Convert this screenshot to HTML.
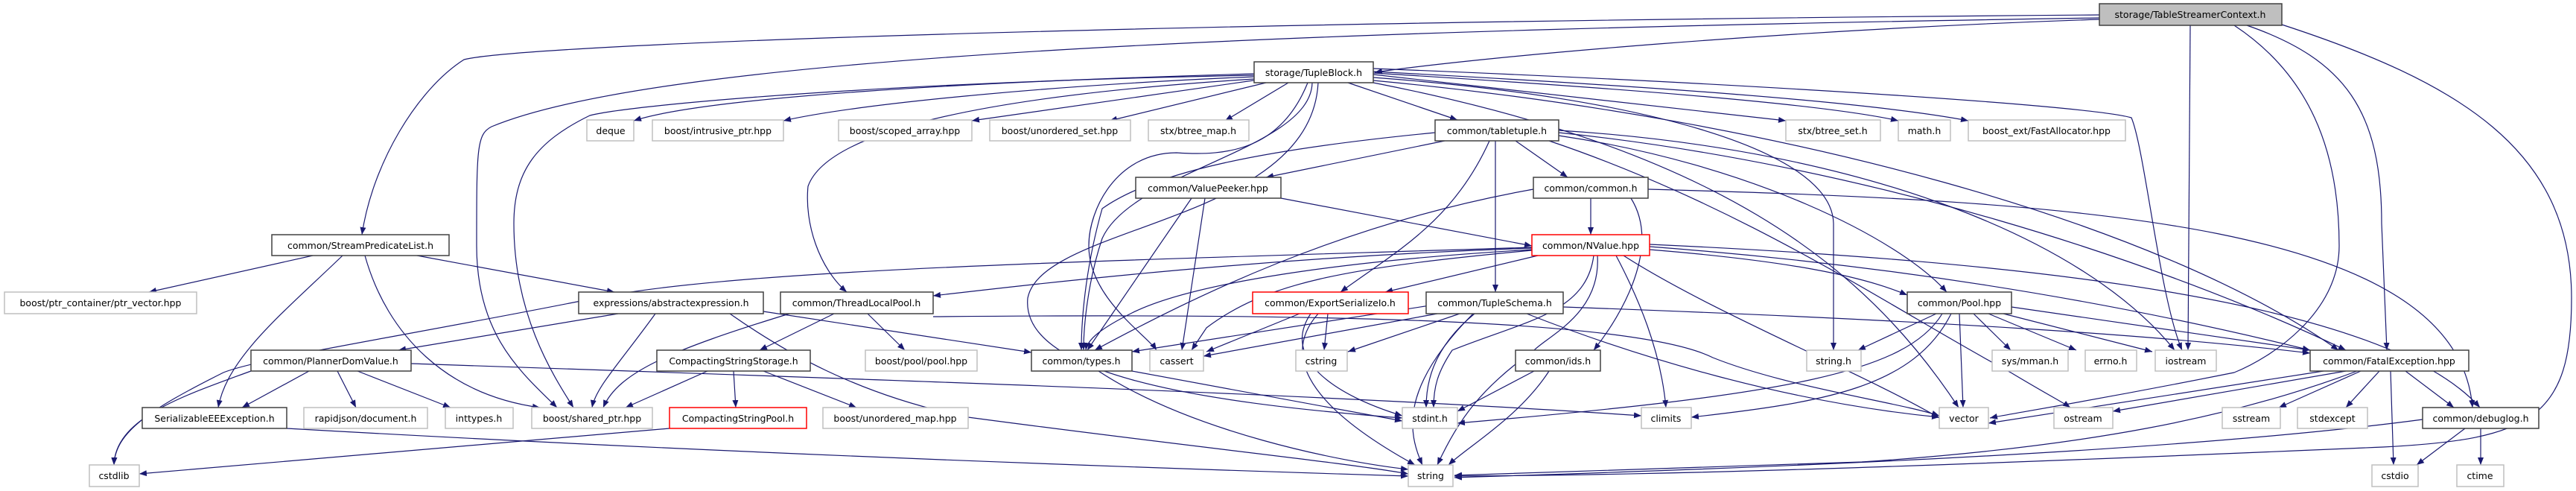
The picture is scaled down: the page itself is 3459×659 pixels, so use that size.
<!DOCTYPE html>
<html><head><meta charset="utf-8"><style>
html,body{margin:0;padding:0;background:#fff;}
svg{display:block;}
text{font-family:"DejaVu Sans","Liberation Sans",sans-serif;font-size:12.5px;fill:#000;}
.e{fill:none;stroke:#191970;stroke-width:1.2;marker-end:url(#a);}
.n{fill:#fff;stroke:#404040;stroke-width:1.5;}
.g{fill:#fff;stroke:#bfbfbf;stroke-width:1.5;}
.r{fill:#fff;stroke:#ff0000;stroke-width:1.5;}
</style></head><body>
<svg width="3459" height="659" viewBox="0 0 3459 659" xmlns="http://www.w3.org/2000/svg">
<defs><marker id="a" viewBox="0 0 10 8" refX="10" refY="4" markerWidth="10" markerHeight="8" markerUnits="userSpaceOnUse" orient="auto"><path d="M0,0 L10,4 L0,8 z" fill="#191970"/></marker></defs>
<g>
<path class="e" d="M2819,26 C2400,40 2000,75 1846,97"/>
<path class="e" d="M2819,20 C1500,30 700,60 623,80 C560,120 500,220 486,315"/>
<path class="e" d="M2819,24 C1800,40 900,70 660,170 C640,180 640,200 640,330 C640,450 700,500 748,547"/>
<path class="e" d="M2941,34 L2938,470"/>
<path class="e" d="M3000,34 C3100,100 3141,200 3141,330 C3141,420 3050,480 3000,500 C2800,540 2700,555 2672,561"/>
<path class="e" d="M3017,34 C3150,80 3198,150 3198,300 L3205,470"/>
<path class="e" d="M3064,33 C3300,110 3453,200 3453,400 C3453,560 3400,590 3200,600 C2500,630 2200,638 1953,639"/>
<path class="e" d="M1684,99 C1300,110 950,130 851,162"/>
<path class="e" d="M1684,103 C1400,115 1150,140 1052,162"/>
<path class="e" d="M1690,107 L1305,162"/>
<path class="e" d="M1700,111 L1490,162"/>
<path class="e" d="M1730,111 L1645,162"/>
<path class="e" d="M1810,111 L1957,161"/>
<path class="e" d="M1684,106 C1300,130 1110,180 1085,250 C1080,300 1100,360 1137,392"/>
<path class="e" d="M1684,101 C1200,110 850,140 792,155 C720,190 690,230 690,300 C690,420 740,500 770,547"/>
<path class="e" d="M1756,111 C1720,200 1650,210 1580,205 C1500,205 1462,280 1462,330 C1462,400 1540,450 1553,470"/>
<path class="e" d="M1762,111 C1760,200 1520,230 1480,320 C1460,380 1455,440 1455,470"/>
<path class="e" d="M1770,111 C1760,300 1400,300 1380,400 C1370,500 1600,540 1883,561"/>
<path class="e" d="M1844,104 C2200,130 2460,200 2462,300 L2462,470"/>
<path class="e" d="M1844,100 L2398,162"/>
<path class="e" d="M1844,98 C2200,120 2450,140 2549,162"/>
<path class="e" d="M1844,96 C2200,115 2500,135 2643,162"/>
<path class="e" d="M1844,92 C2300,110 2800,140 2862,158 C2880,200 2900,400 2930,470"/>
<path class="e" d="M1844,108 C2400,160 2900,300 3140,470"/>
<path class="e" d="M1844,111 C2300,200 2500,350 2630,547"/>
<path class="e" d="M1940,189 L1700,238"/>
<path class="e" d="M2035,189 L2105,238"/>
<path class="e" d="M2000,189 C1950,300 1870,340 1800,392"/>
<path class="e" d="M2008,189 L2008,392"/>
<path class="e" d="M2093,182 C2350,220 2550,320 2614,392"/>
<path class="e" d="M2093,178 C2500,220 2900,350 3150,470"/>
<path class="e" d="M2093,175 C2500,200 2800,320 2920,470"/>
<path class="e" d="M2080,189 C2350,280 2550,420 2700,500 C2750,530 2770,540 2780,547"/>
<path class="e" d="M1927,178 C1700,200 1550,230 1480,280 C1460,350 1452,420 1452,470"/>
<path class="e" d="M1720,266 L2057,330"/>
<path class="e" d="M1600,266 L1460,470"/>
<path class="e" d="M1618,266 L1587,470"/>
<path class="e" d="M2136,266 L2136,315"/>
<path class="e" d="M2213,254 C2800,270 3300,300 3320,547"/>
<path class="e" d="M2059,254 C1800,300 1600,400 1470,470"/>
<path class="e" d="M2190,266 C2230,330 2180,420 2140,470"/>
<path class="e" d="M2057,332 C1500,350 1000,360 800,400 C550,450 350,480 300,500 C200,550 155,580 153,624"/>
<path class="e" d="M2057,333 C1700,345 1400,380 1253,397"/>
<path class="e" d="M2065,343 L1860,392"/>
<path class="e" d="M2057,335 C1800,350 1600,380 1520,420 C1480,440 1460,455 1458,470"/>
<path class="e" d="M2057,336 C1800,360 1700,380 1620,440 L1600,470"/>
<path class="e" d="M2215,335 C2400,350 2500,370 2561,396"/>
<path class="e" d="M2215,331 C2600,360 2900,420 3102,470"/>
<path class="e" d="M2215,328 C2700,350 3200,400 3330,547"/>
<path class="e" d="M2140,343 C2130,420 2050,430 1950,470 C1930,500 1925,520 1925,547"/>
<path class="e" d="M2145,343 C2150,420 2080,450 2060,470 C1990,520 1960,560 1930,624"/>
<path class="e" d="M2170,343 C2200,400 2230,470 2237,547"/>
<path class="e" d="M2180,343 C2300,420 2500,500 2604,561"/>
<path class="e" d="M420,343 L200,392"/>
<path class="e" d="M460,343 C380,420 305,480 293,547"/>
<path class="e" d="M490,343 C520,450 600,530 725,547"/>
<path class="e" d="M560,343 L825,392"/>
<path class="e" d="M830,421 L535,470"/>
<path class="e" d="M880,421 C830,490 800,520 795,547"/>
<path class="e" d="M1025,418 L1385,473"/>
<path class="e" d="M980,421 C1050,470 1150,530 1300,560 C1600,600 1800,620 1891,636"/>
<path class="e" d="M1060,421 C900,470 830,500 810,547"/>
<path class="e" d="M1120,421 L1020,470"/>
<path class="e" d="M1165,421 L1215,470"/>
<path class="e" d="M1253,425 C1800,420 2200,430 2300,480 C2400,520 2550,540 2604,558"/>
<path class="e" d="M337,498 C250,530 155,560 153,624"/>
<path class="e" d="M415,498 L325,547"/>
<path class="e" d="M453,498 L478,547"/>
<path class="e" d="M480,498 L605,547"/>
<path class="e" d="M552,488 C1200,510 1800,530 2204,558"/>
<path class="e" d="M950,498 L840,547"/>
<path class="e" d="M985,498 L988,547"/>
<path class="e" d="M1025,498 L1150,547"/>
<path class="e" d="M899,575 L187,636"/>
<path class="e" d="M385,575 C1000,610 1600,630 1891,639"/>
<path class="e" d="M1745,421 L1620,472"/>
<path class="e" d="M1783,421 L1778,470"/>
<path class="e" d="M1760,421 C1720,480 1790,530 1883,558"/>
<path class="e" d="M1770,421 C1700,500 1820,580 1900,624"/>
<path class="e" d="M1920,410 L1520,472"/>
<path class="e" d="M1930,421 L1616,478"/>
<path class="e" d="M1960,421 L1810,472"/>
<path class="e" d="M1980,421 C1920,470 1915,520 1915,547"/>
<path class="e" d="M1978,421 C1880,520 1890,580 1910,624"/>
<path class="e" d="M2099,412 C2600,430 2900,450 3102,474"/>
<path class="e" d="M2050,421 C2200,480 2400,540 2604,560"/>
<path class="e" d="M1520,498 L1883,565"/>
<path class="e" d="M1475,498 C1600,580 1800,620 1891,630"/>
<path class="e" d="M2060,498 L1957,552"/>
<path class="e" d="M2080,498 C2040,560 1970,600 1945,624"/>
<path class="e" d="M2600,421 L2495,470"/>
<path class="e" d="M2650,421 L2700,470"/>
<path class="e" d="M2670,421 L2788,470"/>
<path class="e" d="M2690,421 L2890,472"/>
<path class="e" d="M2701,412 L3102,470"/>
<path class="e" d="M2631,421 L2636,547"/>
<path class="e" d="M2608,421 C2560,500 2400,530 1957,568"/>
<path class="e" d="M2620,421 C2570,520 2450,540 2271,560"/>
<path class="e" d="M3120,498 L2670,568"/>
<path class="e" d="M3150,498 L2837,552"/>
<path class="e" d="M3170,498 L3060,547"/>
<path class="e" d="M3195,498 L3150,547"/>
<path class="e" d="M3210,498 L3214,624"/>
<path class="e" d="M3230,498 L3295,547"/>
<path class="e" d="M3165,498 C3000,560 2800,600 2500,620 C2200,630 2000,636 1953,638"/>
<path class="e" d="M3253,563 C2900,610 2300,630 1953,641"/>
<path class="e" d="M3310,575 L3245,624"/>
<path class="e" d="M3331,575 L3331,624"/>
</g>
<g>
<rect x="2819" y="5" width="245" height="29" fill="#bfbfbf" stroke="#404040" stroke-width="1.5"/><text x="2941" y="24" text-anchor="middle">storage/TableStreamerContext.h</text>
<rect class="n" x="1684" y="83" width="160" height="28"/><text x="1764" y="102" text-anchor="middle">storage/TupleBlock.h</text>
<rect class="g" x="788" y="161" width="63" height="28"/><text x="820" y="180" text-anchor="middle">deque</text>
<rect class="g" x="876" y="161" width="176" height="28"/><text x="964" y="180" text-anchor="middle">boost/intrusive_ptr.hpp</text>
<rect class="g" x="1126" y="161" width="179" height="28"/><text x="1215" y="180" text-anchor="middle">boost/scoped_array.hpp</text>
<rect class="g" x="1329" y="161" width="189" height="28"/><text x="1423" y="180" text-anchor="middle">boost/unordered_set.hpp</text>
<rect class="g" x="1542" y="161" width="135" height="28"/><text x="1609" y="180" text-anchor="middle">stx/btree_map.h</text>
<rect class="n" x="1927" y="161" width="166" height="28"/><text x="2010" y="180" text-anchor="middle">common/tabletuple.h</text>
<rect class="g" x="2398" y="161" width="127" height="28"/><text x="2461" y="180" text-anchor="middle">stx/btree_set.h</text>
<rect class="g" x="2549" y="161" width="70" height="28"/><text x="2584" y="180" text-anchor="middle">math.h</text>
<rect class="g" x="2643" y="161" width="211" height="28"/><text x="2748" y="180" text-anchor="middle">boost_ext/FastAllocator.hpp</text>
<rect class="n" x="1525" y="238" width="195" height="28"/><text x="1622" y="257" text-anchor="middle">common/ValuePeeker.hpp</text>
<rect class="n" x="2059" y="238" width="154" height="28"/><text x="2136" y="257" text-anchor="middle">common/common.h</text>
<rect class="n" x="365" y="315" width="238" height="28"/><text x="484" y="334" text-anchor="middle">common/StreamPredicateList.h</text>
<rect class="r" x="2057" y="315" width="158" height="28"/><text x="2136" y="334" text-anchor="middle">common/NValue.hpp</text>
<rect class="g" x="6" y="392" width="258" height="29"/><text x="135" y="411" text-anchor="middle">boost/ptr_container/ptr_vector.hpp</text>
<rect class="n" x="777" y="392" width="248" height="29"/><text x="901" y="411" text-anchor="middle">expressions/abstractexpression.h</text>
<rect class="n" x="1048" y="392" width="205" height="29"/><text x="1150" y="411" text-anchor="middle">common/ThreadLocalPool.h</text>
<rect class="r" x="1682" y="392" width="209" height="29"/><text x="1786" y="411" text-anchor="middle">common/ExportSerializeIo.h</text>
<rect class="n" x="1915" y="392" width="184" height="29"/><text x="2007" y="411" text-anchor="middle">common/TupleSchema.h</text>
<rect class="n" x="2561" y="392" width="140" height="29"/><text x="2631" y="411" text-anchor="middle">common/Pool.hpp</text>
<rect class="n" x="337" y="470" width="215" height="28"/><text x="444" y="489" text-anchor="middle">common/PlannerDomValue.h</text>
<rect class="n" x="882" y="470" width="206" height="28"/><text x="985" y="489" text-anchor="middle">CompactingStringStorage.h</text>
<rect class="g" x="1162" y="470" width="150" height="28"/><text x="1237" y="489" text-anchor="middle">boost/pool/pool.hpp</text>
<rect class="n" x="1385" y="470" width="135" height="28"/><text x="1452" y="489" text-anchor="middle">common/types.h</text>
<rect class="g" x="1544" y="470" width="72" height="28"/><text x="1580" y="489" text-anchor="middle">cassert</text>
<rect class="g" x="1740" y="470" width="69" height="28"/><text x="1774" y="489" text-anchor="middle">cstring</text>
<rect class="n" x="2035" y="470" width="114" height="28"/><text x="2092" y="489" text-anchor="middle">common/ids.h</text>
<rect class="g" x="2426" y="470" width="73" height="28"/><text x="2462" y="489" text-anchor="middle">string.h</text>
<rect class="g" x="2675" y="470" width="102" height="28"/><text x="2726" y="489" text-anchor="middle">sys/mman.h</text>
<rect class="g" x="2800" y="470" width="69" height="28"/><text x="2834" y="489" text-anchor="middle">errno.h</text>
<rect class="g" x="2894" y="470" width="82" height="28"/><text x="2935" y="489" text-anchor="middle">iostream</text>
<rect class="n" x="3102" y="470" width="213" height="28"/><text x="3208" y="489" text-anchor="middle">common/FatalException.hpp</text>
<rect class="n" x="191" y="547" width="194" height="28"/><text x="288" y="566" text-anchor="middle">SerializableEEException.h</text>
<rect class="g" x="408" y="547" width="166" height="28"/><text x="491" y="566" text-anchor="middle">rapidjson/document.h</text>
<rect class="g" x="598" y="547" width="91" height="28"/><text x="643" y="566" text-anchor="middle">inttypes.h</text>
<rect class="g" x="714" y="547" width="162" height="28"/><text x="795" y="566" text-anchor="middle">boost/shared_ptr.hpp</text>
<rect class="r" x="899" y="547" width="184" height="28"/><text x="991" y="566" text-anchor="middle">CompactingStringPool.h</text>
<rect class="g" x="1105" y="547" width="195" height="28"/><text x="1202" y="566" text-anchor="middle">boost/unordered_map.hpp</text>
<rect class="g" x="1883" y="547" width="74" height="28"/><text x="1920" y="566" text-anchor="middle">stdint.h</text>
<rect class="g" x="2204" y="547" width="67" height="28"/><text x="2237" y="566" text-anchor="middle">climits</text>
<rect class="g" x="2604" y="547" width="66" height="28"/><text x="2637" y="566" text-anchor="middle">vector</text>
<rect class="g" x="2758" y="547" width="79" height="28"/><text x="2797" y="566" text-anchor="middle">ostream</text>
<rect class="g" x="2984" y="547" width="78" height="28"/><text x="3023" y="566" text-anchor="middle">sstream</text>
<rect class="g" x="3085" y="547" width="94" height="28"/><text x="3132" y="566" text-anchor="middle">stdexcept</text>
<rect class="n" x="3253" y="547" width="156" height="28"/><text x="3331" y="566" text-anchor="middle">common/debuglog.h</text>
<rect class="g" x="120" y="624" width="67" height="29"/><text x="153" y="643" text-anchor="middle">cstdlib</text>
<rect class="g" x="1891" y="624" width="60" height="29"/><text x="1921" y="643" text-anchor="middle">string</text>
<rect class="g" x="3185" y="624" width="62" height="29"/><text x="3216" y="643" text-anchor="middle">cstdio</text>
<rect class="g" x="3299" y="624" width="63" height="29"/><text x="3330" y="643" text-anchor="middle">ctime</text>
</g>
</svg>
</body></html>
